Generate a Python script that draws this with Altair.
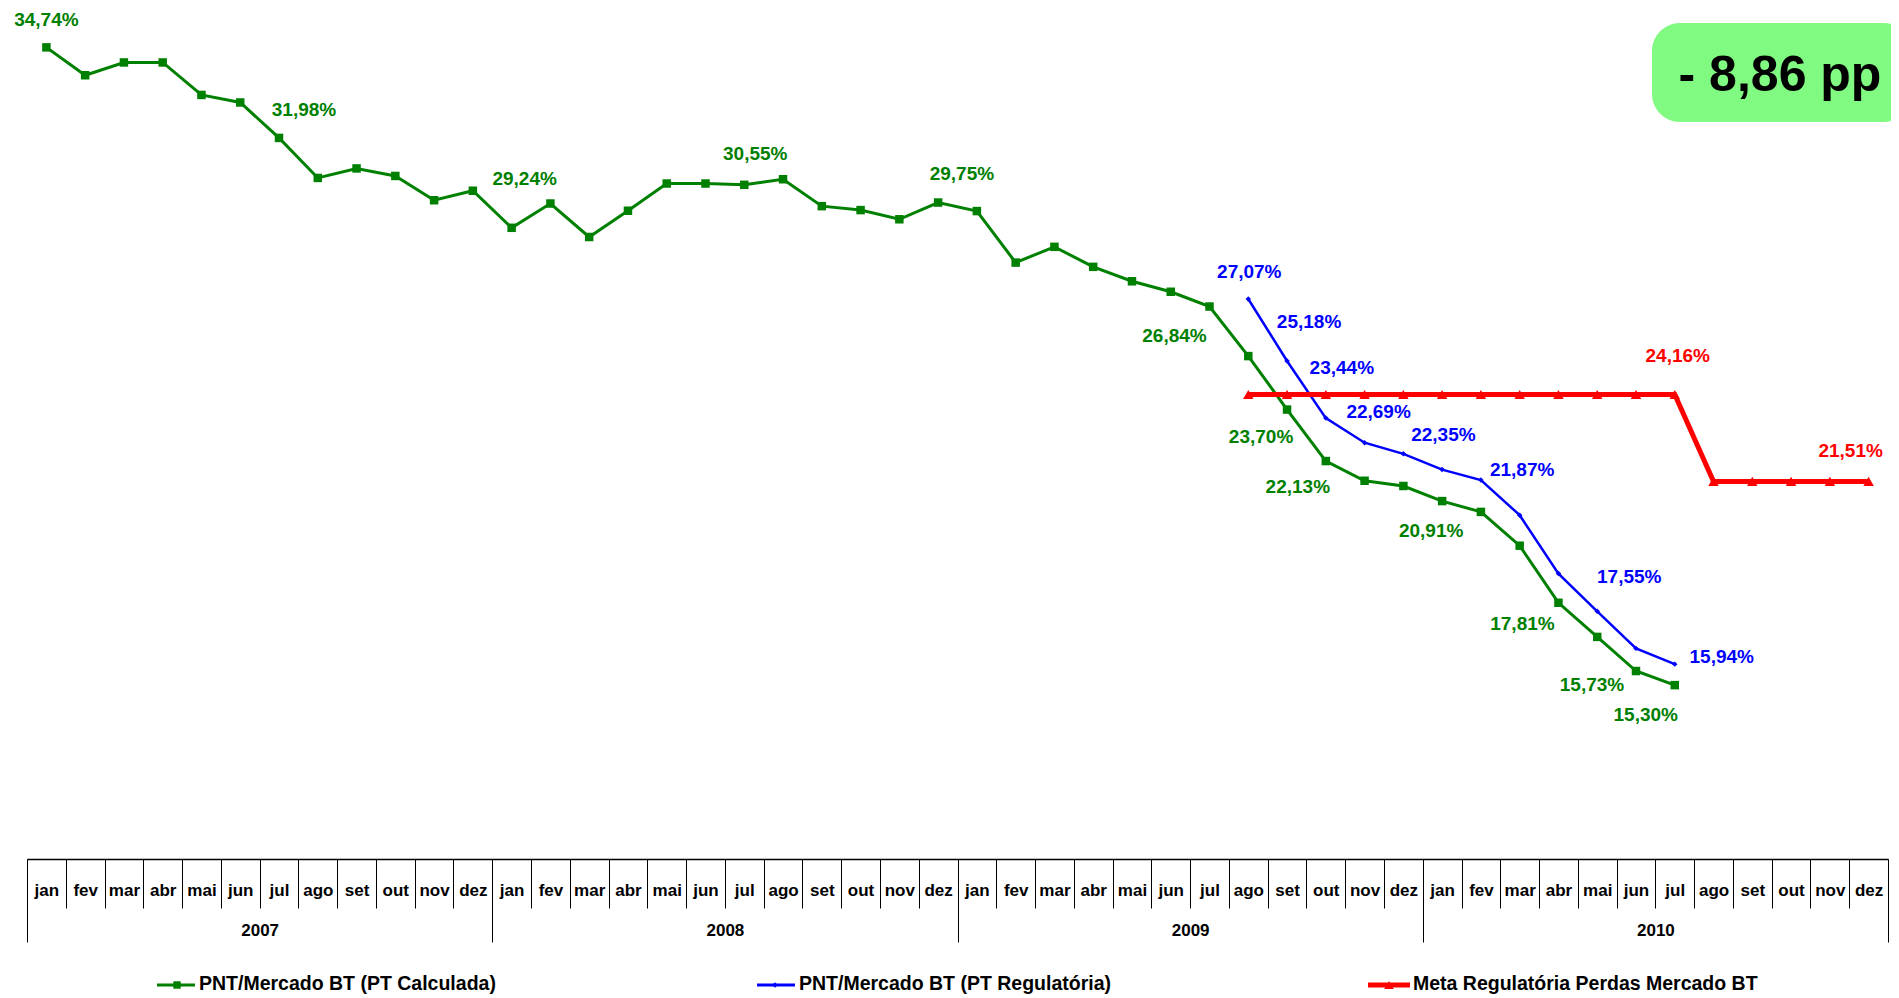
import altair as alt
import pandas as pd

# ---------------- data ----------------
MONTHS = ["jan", "fev", "mar", "abr", "mai", "jun", "jul", "ago", "set", "out", "nov", "dez"]
YEARS = ["2007", "2008", "2009", "2010"]

S_G = "PNT/Mercado BT (PT Calculada)"
S_B = "PNT/Mercado BT (PT Regulatória)"
S_R = "Meta Regulatória Perdas Mercado BT"

# month index 0 = jan/2007
green_start = 0
green_values = [34.74, 33.89, 34.28, 34.28, 33.29, 33.06, 31.98, 30.76, 31.05, 30.82, 30.08, 30.37,
                29.24, 29.98, 28.96, 29.76, 30.59, 30.59, 30.55, 30.72, 29.90, 29.78, 29.50, 30.01,
                29.75, 28.18, 28.66, 28.05, 27.61, 27.29, 26.84, 25.33, 23.70, 22.13, 21.53, 21.37,
                20.91, 20.58, 19.55, 17.81, 16.77, 15.73, 15.30]
blue_start = 31  # ago/2009
blue_values = [27.07, 25.18, 23.44, 22.69, 22.35, 21.87, 21.55, 20.48, 18.70, 17.55, 16.42, 15.94]
red_start = 31
red_values = [24.16, 24.16, 24.16, 24.16, 24.16, 24.16, 24.16, 24.16, 24.16, 24.16, 24.16, 24.16,
              21.51, 21.51, 21.51, 21.51, 21.51]

green_labeled = [0, 6, 12, 18, 24, 30, 32, 33, 36, 39, 41, 42]
blue_labeled = [31, 32, 33, 34, 35, 36, 40, 42]
red_labeled = [42, 47]

BOX_TEXT = "- 8,86 pp"

# ---------------- layout / style ----------------
W, H = 1861, 851
X_DOMAIN = [-0.5, 47.5]
Y_DOMAIN = [10, 35.94]
PXM = W / (X_DOMAIN[1] - X_DOMAIN[0])
PXV = H / (Y_DOMAIN[1] - Y_DOMAIN[0])

GREEN, BLUE, RED = "#008000", "#0000ff", "#ff0000"
FONT = "Liberation Sans"

# label offsets in pixels (dx, dy) relative to the point
label_offsets = {
    S_G: {0: (0, -27), 6: (25, -28), 12: (13, -49), 18: (11, -31), 24: (-15, -37), 30: (-35, 29),
          32: (-26, 27), 33: (-28, 26), 36: (-11, 30), 39: (-36, 21), 41: (-44, 14), 42: (-29, 30)},
    S_B: {31: (1, -27), 32: (22, -39), 33: (16, -50), 34: (14, -31), 35: (40, -19), 36: (80, 0),
          40: (32, -34), 42: (47, -7)},
    S_R: {42: (3, -38), 47: (-18, -30)},
}


def series_df(start, values, name):
    return pd.DataFrame({"i": list(range(start, start + len(values))), "v": values, "s": name})


dg = series_df(green_start, green_values, S_G)
db = series_df(blue_start, blue_values, S_B)
dr = series_df(red_start, red_values, S_R)

rows = []
for df, idxs, name, col in [(dg, green_labeled, S_G, GREEN), (db, blue_labeled, S_B, BLUE),
                            (dr, red_labeled, S_R, RED)]:
    for i in idxs:
        v = float(df.loc[df["i"] == i, "v"].iloc[0])
        dx, dy = label_offsets[name][i]
        rows.append({"lx": i + dx / PXM, "ly": v - dy / PXV,
                     "t": f"{v:.2f}".replace(".", ",") + "%", "c": col})
dl = pd.DataFrame(rows)

xs = alt.Scale(domain=X_DOMAIN, nice=False, zero=False)
ys = alt.Scale(domain=Y_DOMAIN, nice=False, zero=False)

month_expr = "[" + ",".join(f"'{m}'" for m in MONTHS) + "][datum.value % 12]"
year_expr = "[" + ",".join(f"'{y}'" for y in YEARS) + "][floor(datum.value / 12)]"

axis_months = alt.Axis(values=list(range(48)), labelExpr=month_expr, ticks=False, tickSize=0,
                       domain=True, domainColor="#000", domainWidth=1.5, grid=False, title=None,
                       labelAngle=0, labelFlush=False, labelOverlap=False, labelPadding=31,
                       labelBaseline="middle", labelFont=FONT, labelFontSize=17,
                       labelFontWeight="bold", labelColor="#000", orient="bottom")
axis_seps = alt.Axis(values=[k - 0.5 for k in range(49)], labels=False, ticks=True, tickSize=49,
                     tickColor="#000", tickWidth=1, domain=False, grid=False, title=None,
                     orient="bottom")
axis_year_seps = alt.Axis(values=[-0.5, 11.5, 23.5, 35.5, 47.5], labels=False, ticks=True,
                          tickSize=83, tickColor="#000", tickWidth=1, domain=False, grid=False,
                          title=None, orient="bottom")
axis_years = alt.Axis(values=[5.5, 17.5, 29.5, 41.5], labelExpr=year_expr, ticks=False, tickSize=0,
                      domain=False, grid=False, title=None, labelAngle=0, labelFlush=False,
                      labelOverlap=False, labelPadding=71, labelBaseline="middle", labelFont=FONT,
                      labelFontSize=17, labelFontWeight="bold", labelColor="#000", orient="bottom")

Y = alt.Y("v:Q", scale=ys, axis=None)

g_line = alt.Chart(dg).mark_line(color=GREEN, strokeWidth=3).encode(
    x=alt.X("i:Q", scale=xs, axis=axis_months), y=Y)
g_pts = alt.Chart(dg).mark_point(shape="square", filled=True, size=72, color=GREEN, opacity=1).encode(
    x=alt.X("i:Q", scale=xs, axis=axis_years), y=Y)
b_line = alt.Chart(db).mark_line(color=BLUE, strokeWidth=2.5).encode(
    x=alt.X("i:Q", scale=xs, axis=axis_seps), y=Y)
b_pts = alt.Chart(db).mark_point(shape="diamond", filled=True, size=30, color=BLUE, opacity=1).encode(
    x=alt.X("i:Q", scale=xs, axis=None), y=Y)
r_line = alt.Chart(dr).mark_line(color=RED, strokeWidth=5).encode(
    x=alt.X("i:Q", scale=xs, axis=axis_year_seps), y=Y)
r_pts = alt.Chart(dr).mark_point(shape="triangle-up", filled=True, size=110, color=RED, opacity=1).encode(
    x=alt.X("i:Q", scale=xs, axis=None), y=Y)

labels = alt.Chart(dl).mark_text(font=FONT, fontSize=19, fontWeight="bold", align="center",
                                 baseline="middle").encode(
    x=alt.X("lx:Q", scale=xs, axis=None), y=alt.Y("ly:Q", scale=ys, axis=None),
    text="t:N", color=alt.Color("c:N", scale=None))

one = pd.DataFrame({"k": [0]})
box = alt.Chart(one).mark_rect(color="#80fa80", cornerRadius=28).encode(
    x=alt.value(1625), x2=alt.value(1885), y=alt.value(15), y2=alt.value(114))
box_text = alt.Chart(one).mark_text(text=BOX_TEXT, font=FONT, fontSize=50, fontWeight="bold",
                                    color="#000", align="center", baseline="middle").encode(
    x=alt.value(1753), y=alt.value(68))

# legend (decoration)
LEG_Y = 977
legend_layers = []
for name, col, shape, size, sw, x0, x1, xm, xt in [
    (S_G, GREEN, "square", 55, 3, 130, 168, 150, 172),
    (S_B, BLUE, "diamond", 30, 3, 730, 768, 748, 772),
    (S_R, RED, "triangle-up", 90, 5, 1341, 1383, 1362, 1386),
]:
    legend_layers.append(alt.Chart(one).mark_rule(color=col, strokeWidth=sw).encode(
        x=alt.value(x0), x2=alt.value(x1), y=alt.value(LEG_Y)))
    legend_layers.append(alt.Chart(one).mark_point(shape=shape, filled=True, size=size, color=col,
                                                   opacity=1).encode(
        x=alt.value(xm), y=alt.value(LEG_Y)))
    legend_layers.append(alt.Chart(one).mark_text(text=name, font=FONT, fontSize=19.5,
                                                  fontWeight="bold", color="#000", align="left",
                                                  baseline="middle").encode(
        x=alt.value(xt), y=alt.value(LEG_Y - 1)))

chart = alt.layer(g_line, b_line, r_line, g_pts, b_pts, r_pts, labels, box, box_text,
                  *legend_layers).resolve_axis(x="independent").properties(
    width=W, height=H,
    autosize=alt.AutoSizeParams(type="none"),
    padding={"left": 19, "top": 0, "right": 3, "bottom": 139},
    background="white",
).configure_view(stroke=None)

chart.save("out.html", embed_options={"renderer": "svg", "actions": False})
